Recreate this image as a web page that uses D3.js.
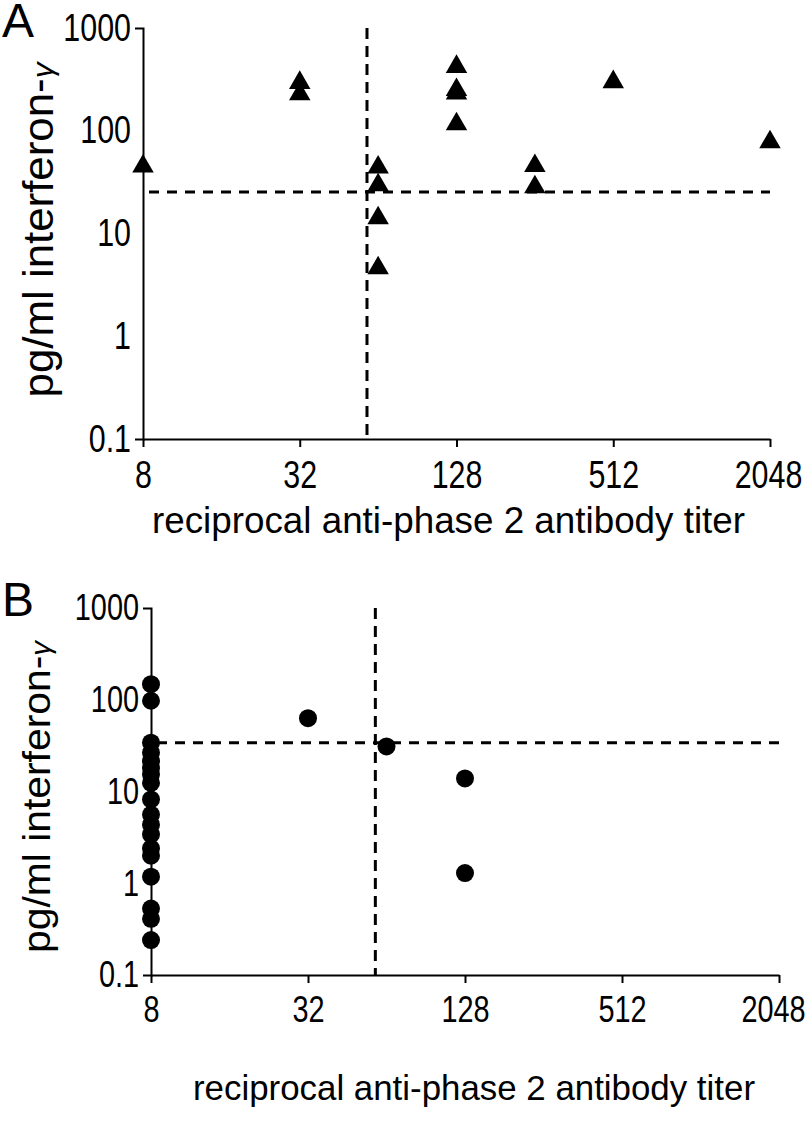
<!DOCTYPE html>
<html><head><meta charset="utf-8">
<script src="https://cdnjs.cloudflare.com/ajax/libs/d3/7.8.5/d3.min.js"></script>
<style>
body{margin:0;background:#fff;}
svg text{font-family:"Liberation Sans",Arial,sans-serif;fill:#000;}
</style></head>
<body><svg id="c" width="810" height="1130"></svg>
<script>
// ---- data ----
const titerTicks = [8, 32, 128, 512, 2048];
const ifnTicks = [0.1, 1, 10, 100, 1000];
const xTitle = "reciprocal anti-phase 2 antibody titer";
const yTitle = "pg/ml interferon-";
// Panel A (triangles)
const aTiter = [8, 32, 32, 64, 64, 64, 64, 128, 128, 128, 128, 256, 256, 512, 2048];
const aIFN   = [45, 293, 227, 44, 29.6, 14.1, 4.6, 420, 250, 232, 116, 45.5, 28.3, 298, 77.6];
const aCutTiter = 58, aCutIFN = 25.3;
// Panel B (circles)
const bTiter = [8,8,8,8,8,8,8,8,8,8,8,8,8,8,8,8,8,8, 32, 64, 128, 128];
const bIFN   = [148, 97.5, 34, 26.5, 21.5, 18, 15.4, 12.4, 8.2, 5.6, 4.35, 3.4, 2.4, 2.0, 1.18, 0.53, 0.41, 0.24, 63, 31, 13.9, 1.29];
const bCutTiter = 58, bCutIFN = 34;

const svg = d3.select("#c");

function condense(sel, f){
  sel.each(function(){
    const w = this.getComputedTextLength();
    d3.select(this).attr("textLength", w*f).attr("lengthAdjust","spacingAndGlyphs");
  });
}

function panel(cfg){
  const g = svg.append("g");
  const x = d3.scaleLog().base(2).domain([8, 2048]).range([cfg.x0, cfg.x1]);
  const y = d3.scaleLog().domain([0.1, 1000]).range([cfg.y0, cfg.y1]);

  // y axis
  const ya = g.append("g").attr("transform", `translate(${cfg.x0},0)`)
    .call(d3.axisLeft(y).tickValues(ifnTicks).tickSizeInner(0).tickSizeOuter(8).tickPadding(cfg.yPad)
      .tickFormat(d => d < 1 ? "0.1" : d3.format("d")(d)));
  ya.select(".domain").attr("stroke","#000").attr("stroke-width",2);
  ya.selectAll("text").attr("font-size", cfg.fs).attr("font-family","Liberation Sans, Arial, sans-serif").attr("fill","#000");
  condense(ya.selectAll("text"), cfg.cond);

  // x axis
  const xa = g.append("g").attr("transform", `translate(0,${cfg.y0})`)
    .call(d3.axisBottom(x).tickValues(titerTicks).tickSizeInner(8).tickSizeOuter(0).tickPadding(cfg.xPad)
      .tickFormat(d3.format("d")));
  xa.select(".domain").attr("stroke","#000").attr("stroke-width",2);
  xa.selectAll("line").attr("stroke","#000").attr("stroke-width",2);
  xa.selectAll("text").attr("font-size", cfg.fs).attr("font-family","Liberation Sans, Arial, sans-serif").attr("fill","#000");
  condense(xa.selectAll("text"), cfg.cond);
  xa.selectAll("text").filter(d => d === 2048).attr("dx", cfg.lastDx);

  // titles
  g.append("text").attr("x", cfg.xtX).attr("y", cfg.xtY).attr("font-size", cfg.xtFs)
    .attr("textLength", cfg.xtW).attr("lengthAdjust","spacingAndGlyphs").text(xTitle);
  const yt = g.append("text").attr("transform", `translate(${cfg.ytX},${cfg.ytY}) rotate(-90)`)
    .attr("text-anchor","middle").attr("font-size", cfg.ytFs)
    .attr("textLength", cfg.ytW).attr("lengthAdjust","spacingAndGlyphs");
  yt.append("tspan").text(yTitle);
  yt.append("tspan").attr("font-size", cfg.ytFs*0.72).attr("font-style","italic").text("γ");

  // panel letter
  g.append("text").attr("x", 2).attr("y", cfg.letterY).attr("font-size", 48).text(cfg.letter);

  // dashed cut-offs
  g.append("line").attr("x1", x(cfg.cutX)).attr("x2", x(cfg.cutX)).attr("y1", y(1000)).attr("y2", y(0.1))
    .attr("stroke","#000").attr("stroke-width",3).attr("stroke-dasharray","11,7");
  g.append("line").attr("x1", x(8)+6).attr("x2", x(2048)).attr("y1", y(cfg.cutY)).attr("y2", y(cfg.cutY))
    .attr("stroke","#000").attr("stroke-width",3).attr("stroke-dasharray","10,8");

  // points
  const pts = cfg.tx.map((t,i)=>({t, v: cfg.v[i]}));
  if (cfg.shape === "tri") {
    const sym = d3.symbol(d3.symbolTriangle, 200);
    g.selectAll("path.pt").data(pts).enter().append("path").attr("class","pt")
      .attr("d", sym).attr("transform", d => `translate(${x(d.t)},${y(d.v)})`).attr("fill","#000");
  } else {
    g.selectAll("circle.pt").data(pts).enter().append("circle").attr("class","pt")
      .attr("cx", d => x(d.t)).attr("cy", d => y(d.v)).attr("r", 9).attr("fill","#000");
  }
}

panel({x0:143, x1:770, y0:439, y1:28, fs:38, cond:0.8, yPad:12, xPad:14, lastDx:-2,
  xtX:152, xtY:533, xtFs:37, xtW:593, ytX:53, ytY:230, ytFs:42, ytW:335, letter:"A", letterY:37,
  cutX:aCutTiter, cutY:aCutIFN, tx:aTiter, v:aIFN, shape:"tri"});
panel({x0:151, x1:779, y0:975, y1:608, fs:37, cond:0.78, yPad:12, xPad:13, lastDx:-6,
  xtX:193, xtY:1100, xtFs:35, xtW:562, ytX:50, ytY:797, ytFs:39, ytW:312, letter:"B", letterY:616,
  cutX:bCutTiter, cutY:bCutIFN, tx:bTiter, v:bIFN, shape:"circ"});
</script></body></html>
